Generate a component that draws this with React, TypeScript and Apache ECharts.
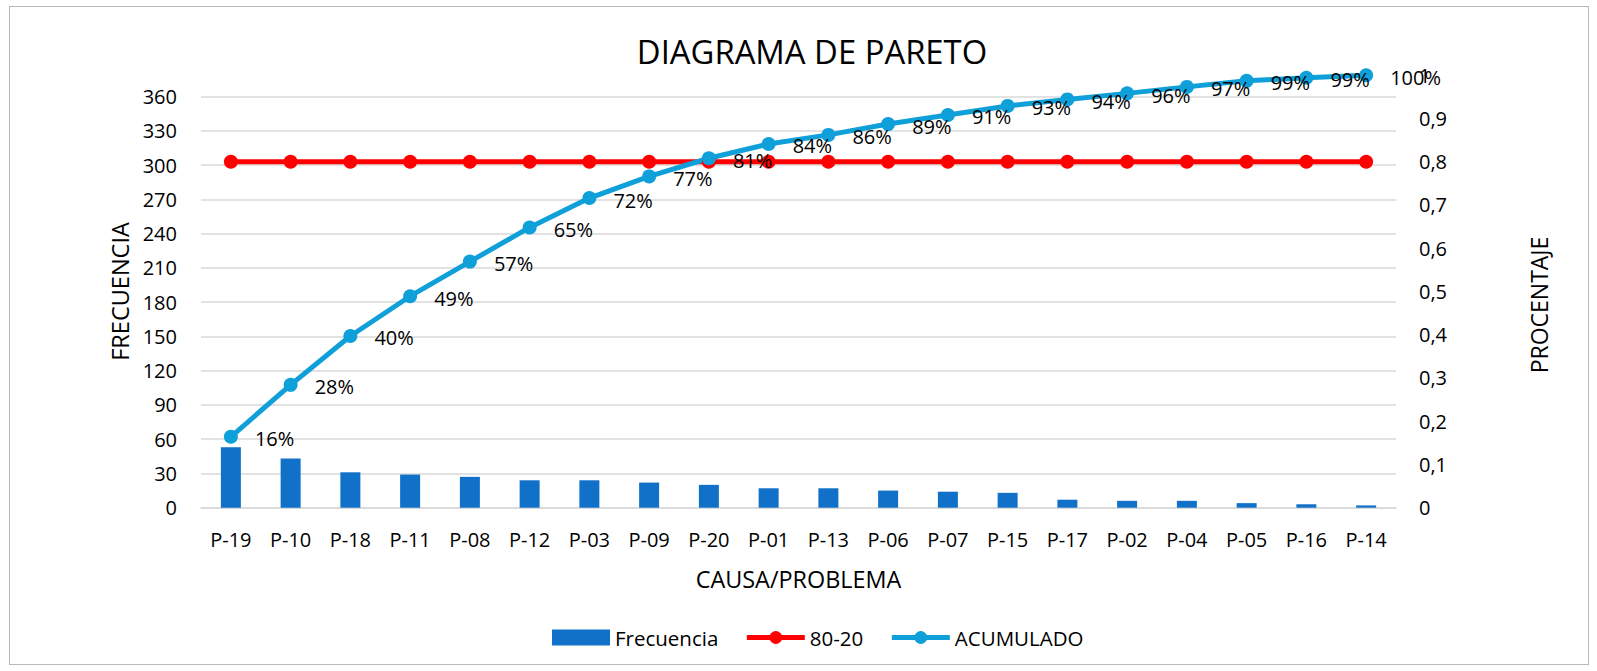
import React, { useEffect, useRef } from "react";
import * as echarts from "echarts";

const categories = ["P-19", "P-10", "P-18", "P-11", "P-08", "P-12", "P-03", "P-09", "P-20", "P-01", "P-13", "P-06", "P-07", "P-15", "P-17", "P-02", "P-04", "P-05", "P-16", "P-14"];
const frecuencia = [53, 43, 31, 29, 27, 24, 24, 22, 20, 17, 17, 15, 14, 13, 7, 6, 6, 4, 3, 2];
const regla8020 = [0.8, 0.8, 0.8, 0.8, 0.8, 0.8, 0.8, 0.8, 0.8, 0.8, 0.8, 0.8, 0.8, 0.8, 0.8, 0.8, 0.8, 0.8, 0.8, 0.8];
const acumulado = [0.164, 0.284, 0.397, 0.489, 0.569, 0.648, 0.716, 0.766, 0.808, 0.841, 0.862, 0.887, 0.908, 0.929, 0.944, 0.958, 0.973, 0.987, 0.994, 1.0];
const leftTicks = { min: 0, max: 360, interval: 30 };
const rightTicks = { min: 0, max: 1, interval: 0.1 };

const FONT = "'Open Sans', 'Noto Sans', sans-serif";

export default function App() {
  const ref = useRef<HTMLDivElement>(null);
  useEffect(() => {
    if (!ref.current) return;
    const chart = echarts.init(ref.current, undefined, { renderer: "svg" });
    const gridLeft = 191;
    const gridWidth = 1195;
    const option: any = {
      animation: false,
      textStyle: { fontFamily: FONT, color: "#000" },
      grid: [
        { left: gridLeft, width: gridWidth, top: 89.5, height: 411.2 },
        { left: gridLeft, width: gridWidth, top: 68.2, height: 432.5 },
      ],
      xAxis: [
        {
          type: "category",
          gridIndex: 0,
          data: categories,
          axisLine: { show: true, lineStyle: { color: "#d9d9d9", width: 1.5 } },
          axisTick: { show: false },
          axisLabel: { color: "#000", fontSize: 20, fontFamily: FONT, margin: 22 },
        },
        {
          type: "category",
          gridIndex: 1,
          data: categories,
          show: false,
        },
      ],
      yAxis: [
        {
          type: "value",
          gridIndex: 0,
          position: "left",
          min: leftTicks.min,
          max: leftTicks.max,
          interval: leftTicks.interval,
          axisLine: { show: false },
          axisTick: { show: false },
          splitLine: { show: true, lineStyle: { color: "#d9d9d9", width: 1.5 } },
          axisLabel: { color: "#000", fontSize: 20, fontFamily: FONT, margin: 24 },
        },
        {
          type: "value",
          gridIndex: 1,
          position: "right",
          min: rightTicks.min,
          max: rightTicks.max,
          interval: rightTicks.interval,
          axisLine: { show: false },
          axisTick: { show: false },
          splitLine: { show: false },
          axisLabel: {
            color: "#000",
            fontSize: 20,
            fontFamily: FONT,
            margin: 23,
            formatter: (v: number) => {
              const r = Math.round(v * 10) / 10;
              if (r === 0) return "0";
              if (r === 1) return "1";
              return r.toFixed(1).replace(".", ",");
            },
          },
        },
      ],
      legend: {
        left: 537,
        top: 615,
        itemWidth: 58,
        itemHeight: 16,
        itemGap: 26,
        lineStyle: { width: 5 },
        textStyle: { color: "#000", fontSize: 20.5, fontFamily: FONT },
        data: [{ name: "Frecuencia", icon: "rect" }, { name: "80-20" }, { name: "ACUMULADO" }],
      },
      graphic: [
        {
          type: "text",
          x: 802,
          y: 44,
          style: { text: "DIAGRAMA DE PARETO", fontSize: 32.8, fontFamily: FONT, fill: "#000", textAlign: "center", textVerticalAlign: "middle" },
        },
        {
          type: "text",
          x: 110,
          y: 284.5,
          rotation: Math.PI / 2,
          style: { text: "FRECUENCIA", fontSize: 23.5, fontFamily: FONT, fill: "#000", textAlign: "center", textVerticalAlign: "middle" },
        },
        {
          type: "text",
          x: 1529,
          y: 298,
          rotation: Math.PI / 2,
          style: { text: "PROCENTAJE", fontSize: 23, fontFamily: FONT, fill: "#000", textAlign: "center", textVerticalAlign: "middle" },
        },
        {
          type: "text",
          x: 788.5,
          y: 571.5,
          style: { text: "CAUSA/PROBLEMA", fontSize: 23.4, fontFamily: FONT, fill: "#000", textAlign: "center", textVerticalAlign: "middle" },
        },
      ],
      series: [
        {
          name: "Frecuencia",
          type: "bar",
          xAxisIndex: 0,
          yAxisIndex: 0,
          data: frecuencia,
          barWidth: 20,
          itemStyle: { color: "#1170c8" },
        },
        {
          name: "80-20",
          type: "line",
          xAxisIndex: 1,
          yAxisIndex: 1,
          data: regla8020,
          symbol: "circle",
          symbolSize: 14,
          lineStyle: { color: "#ff0000", width: 5 },
          itemStyle: { color: "#ff0000" },
        },
        {
          name: "ACUMULADO",
          type: "line",
          xAxisIndex: 1,
          yAxisIndex: 1,
          data: acumulado,
          symbol: "circle",
          symbolSize: 14,
          lineStyle: { color: "#0f9fd9", width: 5 },
          itemStyle: { color: "#0f9fd9" },
          label: {
            show: true,
            position: "right",
            distance: 17,
            offset: [0, 2],
            color: "#000",
            fontSize: 20,
            fontFamily: FONT,
            formatter: (p: any) => Math.round(p.value * 100) + "%",
          },
        },
      ],
    };
    chart.setOption(option);
    return () => chart.dispose();
  }, []);
  return (
    <div
      style={{
        position: "absolute",
        left: 9,
        top: 6,
        width: 1580,
        height: 659,
        boxSizing: "border-box",
        border: "1px solid #b8b8b8",
        background: "#fff",
      }}
    >
      <div ref={ref} style={{ width: 1578, height: 657 }} />
    </div>
  );
}
